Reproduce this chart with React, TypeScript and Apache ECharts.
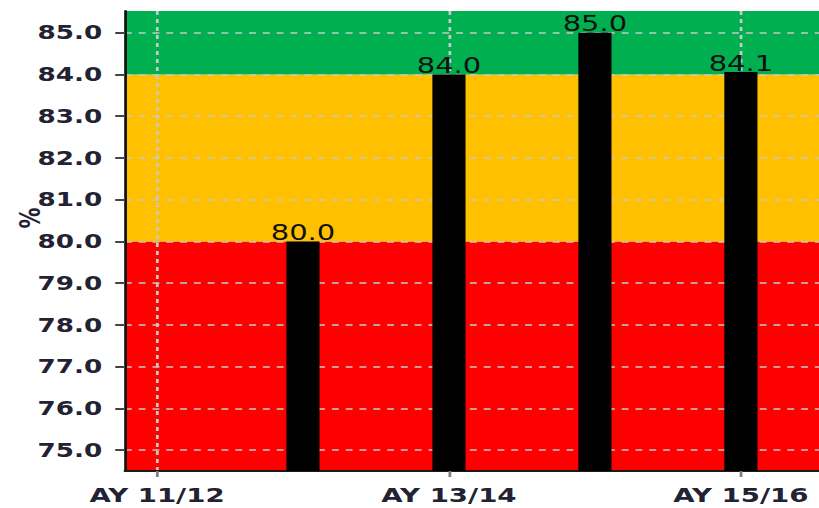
import React, { useEffect, useRef } from "react";
import * as echarts from "echarts";

const categories = ["AY 11/12", "AY 12/13", "AY 13/14", "AY 14/15", "AY 15/16"];
const values: (number | null)[] = [null, 80.0, 84.0, 85.0, 84.06];
const xLabelIdx = [0, 2, 4];
const yTicks = [75, 76, 77, 78, 79, 80, 81, 82, 83, 84, 85];
const bands = [
  { from: 74.5, to: 80, color: "#FF0000" },
  { from: 80, to: 84, color: "#FFC000" },
  { from: 84, to: 85.52, color: "#00B050" },
];

const S = 1.38;
const W0 = 594;
const H = 508;
const TEXT = "#222233";

export default function App() {
  const ref = useRef<HTMLDivElement>(null);
  useEffect(() => {
    if (!ref.current) return;
    const chart = echarts.init(ref.current, null, { renderer: "svg" });
    const data = values
      .map((v, i) => (v == null ? null : [i, v]))
      .filter((d) => d !== null);
    chart.setOption({
      animation: false,
      grid: { left: 90.5, right: 0, top: 11, bottom: 37, containLabel: false },
      xAxis: {
        type: "value",
        min: -0.22,
        max: 4.54,
        axisLine: { show: true, onZero: false, lineStyle: { color: "#1a1a1a", width: 2 } },
        axisTick: { show: true, customValues: xLabelIdx, length: 6, lineStyle: { color: "#7f7f7f", width: 2 } },
        axisLabel: {
          customValues: xLabelIdx,
          formatter: (v: number) => categories[Math.round(v)] ?? "",
          fontFamily: "DejaVu Sans",
          fontWeight: "bold",
          fontSize: 20,
          color: TEXT,
          margin: 14,
        },
        splitLine: { show: true, lineStyle: { color: "#c8c8c8", width: 2, type: [4, 4] } },
      },
      yAxis: {
        type: "value",
        min: 74.5,
        max: 85.52,
        axisLine: { show: true, onZero: false, lineStyle: { color: "#111111", width: 2 } },
        axisTick: { show: true, customValues: yTicks, length: 7, lineStyle: { color: "#444444", width: 2 } },
        axisLabel: {
          customValues: yTicks,
          formatter: (v: number) => v.toFixed(1),
          fontFamily: "DejaVu Sans",
          fontWeight: "bold",
          fontSize: 19,
          color: TEXT,
          margin: 16.5,
        },
        splitLine: { show: true, lineStyle: { color: "#c8c8c8", width: 1.5, type: [5, 5] } },
      },
      graphic: [
        {
          type: "text",
          x: 22,
          y: 218,
          rotation: Math.PI / 2,
          style: {
            text: "%",
            font: "bold 21px 'DejaVu Sans'",
            fill: TEXT,
            align: "center",
            verticalAlign: "middle",
          },
        },
      ],
      series: [
        {
          type: "bar",
          data,
          barWidth: 24,
          itemStyle: { color: "#000000" },
          label: {
            show: true,
            position: "top",
            distance: -2,
            formatter: (p: any) => Number(p.value[1]).toFixed(1),
            fontFamily: "DejaVu Sans",
            fontSize: 21,
            color: "#111111",
          },
          markArea: {
            silent: true,
            z: -1,
            data: bands.map((b) => [
              { yAxis: b.from, itemStyle: { color: b.color, opacity: 1 } },
              { yAxis: b.to },
            ]),
          },
        },
      ],
    });
    return () => chart.dispose();
  }, []);
  return (
    <div
      style={{
        position: "fixed",
        left: 0,
        top: 0,
        width: 819,
        height: H,
        overflow: "hidden",
        background: "#ffffff",
      }}
    >
      <div
        ref={ref}
        style={{ width: W0, height: H, transform: `scaleX(${S})`, transformOrigin: "0 0" }}
      />
    </div>
  );
}
